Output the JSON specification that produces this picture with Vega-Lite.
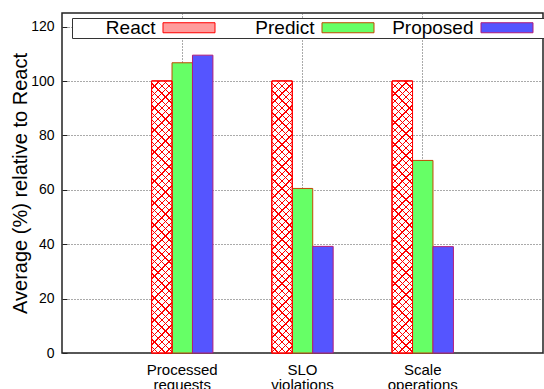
{
  "$schema": "https://vega.github.io/schema/vega-lite/v6.json",
  "width": 481,
  "height": 340,
  "autosize": {"type": "none"},
  "padding": {"left": 62, "top": 13, "right": 1, "bottom": 36},
  "background": "white",
  "config": {
    "font": "Liberation Sans",
    "view": {"stroke": "#222", "strokeWidth": 1.5}
  },
  "data": {
    "values": [
      {"cat": "Processed requests", "series": "React", "value": 100},
      {"cat": "Processed requests", "series": "Predict", "value": 106.7},
      {"cat": "Processed requests", "series": "Proposed", "value": 109.5},
      {"cat": "SLO violations", "series": "React", "value": 100},
      {"cat": "SLO violations", "series": "Predict", "value": 60.5},
      {"cat": "SLO violations", "series": "Proposed", "value": 39.2},
      {"cat": "Scale operations", "series": "React", "value": 100},
      {"cat": "Scale operations", "series": "Predict", "value": 70.8},
      {"cat": "Scale operations", "series": "Proposed", "value": 39.1}
    ]
  },
  "encoding": {
    "x": {
      "field": "cat",
      "type": "nominal",
      "sort": null,
      "scale": {"paddingInner": 0.49, "paddingOuter": 0.745},
      "axis": {
        "title": null,
        "labelAngle": 0,
        "labelExpr": "split(datum.label, ' ')",
        "labelFontSize": 15,
        "labelLineHeight": 15,
        "labelPadding": 9,
        "labelColor": "black",
        "ticks": false,
        "domain": false,
        "grid": true,
        "gridDash": [1, 2],
        "gridColor": "#555",
        "bandPosition": 0.5
      }
    },
    "xOffset": {"field": "series", "type": "nominal", "scale": {"domain": ["React", "Predict", "Proposed"], "paddingInner": 0}},
    "y": {
      "field": "value",
      "type": "quantitative",
      "scale": {"domain": [0, 125], "nice": false},
      "axis": {
        "values": [0, 20, 40, 60, 80, 100, 120],
        "title": "Average (%) relative to React",
        "titleFontSize": 20,
        "titleFontWeight": "normal",
        "titleColor": "black",
        "titlePadding": 0,
        "labelFontSize": 14,
        "labelPadding": 13,
        "labelColor": "black",
        "ticks": true,
        "tickSize": -5,
        "tickColor": "#222",
        "tickWidth": 1,
        "domain": false,
        "gridDash": [1, 2],
        "gridColor": "#555"
      }
    }
  },
  "layer": [
    {
      "mark": {"type": "bar", "strokeWidth": 1},
      "encoding": {
        "fill": {
          "field": "series",
          "type": "nominal",
          "scale": {"domain": ["React", "Predict", "Proposed"], "range": ["#ff9c9c", "#66ff66", "#5555ff"]},
          "legend": {
            "title": " ",
            "orient": "none",
            "legendX": 10,
            "legendY": 5,
            "direction": "horizontal",
            "columns": 3,
            "titleOrient": "left",
            "titleFontSize": 1,
            "titlePadding": 91,
            "padding": 0,
            "strokeColor": "#333",
            "fillColor": "white",
            "labelFontSize": 19,
            "labelColor": "black",
            "labelAlign": "right",
            "labelBaseline": "middle",
            "labelOffset": -43,
            "symbolOffset": 16.5,
            "symbolType": "M-2.889,-0.556H2.889V0.556H-2.889Z M-13.111,0 M4.111,0",
            "symbolSize": 324,
            "symbolStrokeWidth": 1,
            "columnPadding": 0,
            "rowPadding": 0
          }
        },
        "stroke": {
          "field": "series",
          "type": "nominal",
          "scale": {"domain": ["React", "Predict", "Proposed"], "range": ["#ff0000", "#c04a00", "#b01c7a"]},
          "legend": {
            "title": " ",
            "orient": "none",
            "legendX": 10,
            "legendY": 5,
            "direction": "horizontal",
            "columns": 3,
            "titleOrient": "left",
            "titleFontSize": 1,
            "titlePadding": 91,
            "padding": 0,
            "strokeColor": "#333",
            "fillColor": "white",
            "labelFontSize": 19,
            "labelColor": "black",
            "labelAlign": "right",
            "labelBaseline": "middle",
            "labelOffset": -43,
            "symbolOffset": 16.5,
            "symbolType": "M-2.889,-0.556H2.889V0.556H-2.889Z M-13.111,0 M4.111,0",
            "symbolSize": 324,
            "symbolStrokeWidth": 1,
            "columnPadding": 0,
            "rowPadding": 0
          }
        }
      }
    },
    {
      "transform": [{"filter": "datum.series === 'React'"}],
      "mark": {
        "type": "bar",
        "stroke": "#ff0000",
        "strokeWidth": 1,
        "fill": {
          "gradient": "linear",
          "x1": 0, "y1": 0, "x2": 0.0803, "y2": 1.0691,
          "stops": [
            {"offset": 0, "color": "#f00"}, {"offset": 0.0045, "color": "#f00"}, {"offset": 0.0045, "color": "#fff"},
            {"offset": 0.025, "color": "#fff"}, {"offset": 0.025, "color": "#f00"}, {"offset": 0.0295, "color": "#f00"}, {"offset": 0.0295, "color": "#fff"},
            {"offset": 0.05, "color": "#fff"}, {"offset": 0.05, "color": "#f00"}, {"offset": 0.0545, "color": "#f00"}, {"offset": 0.0545, "color": "#fff"},
            {"offset": 0.075, "color": "#fff"}, {"offset": 0.075, "color": "#f00"}, {"offset": 0.0795, "color": "#f00"}, {"offset": 0.0795, "color": "#fff"},
            {"offset": 0.1, "color": "#fff"}, {"offset": 0.1, "color": "#f00"}, {"offset": 0.1045, "color": "#f00"}, {"offset": 0.1045, "color": "#fff"},
            {"offset": 0.125, "color": "#fff"}, {"offset": 0.125, "color": "#f00"}, {"offset": 0.1295, "color": "#f00"}, {"offset": 0.1295, "color": "#fff"},
            {"offset": 0.15, "color": "#fff"}, {"offset": 0.15, "color": "#f00"}, {"offset": 0.1545, "color": "#f00"}, {"offset": 0.1545, "color": "#fff"},
            {"offset": 0.175, "color": "#fff"}, {"offset": 0.175, "color": "#f00"}, {"offset": 0.1795, "color": "#f00"}, {"offset": 0.1795, "color": "#fff"},
            {"offset": 0.2, "color": "#fff"}, {"offset": 0.2, "color": "#f00"}, {"offset": 0.2045, "color": "#f00"}, {"offset": 0.2045, "color": "#fff"},
            {"offset": 0.225, "color": "#fff"}, {"offset": 0.225, "color": "#f00"}, {"offset": 0.2295, "color": "#f00"}, {"offset": 0.2295, "color": "#fff"},
            {"offset": 0.25, "color": "#fff"}, {"offset": 0.25, "color": "#f00"}, {"offset": 0.2545, "color": "#f00"}, {"offset": 0.2545, "color": "#fff"},
            {"offset": 0.275, "color": "#fff"}, {"offset": 0.275, "color": "#f00"}, {"offset": 0.2795, "color": "#f00"}, {"offset": 0.2795, "color": "#fff"},
            {"offset": 0.3, "color": "#fff"}, {"offset": 0.3, "color": "#f00"}, {"offset": 0.3045, "color": "#f00"}, {"offset": 0.3045, "color": "#fff"},
            {"offset": 0.325, "color": "#fff"}, {"offset": 0.325, "color": "#f00"}, {"offset": 0.3295, "color": "#f00"}, {"offset": 0.3295, "color": "#fff"},
            {"offset": 0.35, "color": "#fff"}, {"offset": 0.35, "color": "#f00"}, {"offset": 0.3545, "color": "#f00"}, {"offset": 0.3545, "color": "#fff"},
            {"offset": 0.375, "color": "#fff"}, {"offset": 0.375, "color": "#f00"}, {"offset": 0.3795, "color": "#f00"}, {"offset": 0.3795, "color": "#fff"},
            {"offset": 0.4, "color": "#fff"}, {"offset": 0.4, "color": "#f00"}, {"offset": 0.4045, "color": "#f00"}, {"offset": 0.4045, "color": "#fff"},
            {"offset": 0.425, "color": "#fff"}, {"offset": 0.425, "color": "#f00"}, {"offset": 0.4295, "color": "#f00"}, {"offset": 0.4295, "color": "#fff"},
            {"offset": 0.45, "color": "#fff"}, {"offset": 0.45, "color": "#f00"}, {"offset": 0.4545, "color": "#f00"}, {"offset": 0.4545, "color": "#fff"},
            {"offset": 0.475, "color": "#fff"}, {"offset": 0.475, "color": "#f00"}, {"offset": 0.4795, "color": "#f00"}, {"offset": 0.4795, "color": "#fff"},
            {"offset": 0.5, "color": "#fff"}, {"offset": 0.5, "color": "#f00"}, {"offset": 0.5045, "color": "#f00"}, {"offset": 0.5045, "color": "#fff"},
            {"offset": 0.525, "color": "#fff"}, {"offset": 0.525, "color": "#f00"}, {"offset": 0.5295, "color": "#f00"}, {"offset": 0.5295, "color": "#fff"},
            {"offset": 0.55, "color": "#fff"}, {"offset": 0.55, "color": "#f00"}, {"offset": 0.5545, "color": "#f00"}, {"offset": 0.5545, "color": "#fff"},
            {"offset": 0.575, "color": "#fff"}, {"offset": 0.575, "color": "#f00"}, {"offset": 0.5795, "color": "#f00"}, {"offset": 0.5795, "color": "#fff"},
            {"offset": 0.6, "color": "#fff"}, {"offset": 0.6, "color": "#f00"}, {"offset": 0.6045, "color": "#f00"}, {"offset": 0.6045, "color": "#fff"},
            {"offset": 0.625, "color": "#fff"}, {"offset": 0.625, "color": "#f00"}, {"offset": 0.6295, "color": "#f00"}, {"offset": 0.6295, "color": "#fff"},
            {"offset": 0.65, "color": "#fff"}, {"offset": 0.65, "color": "#f00"}, {"offset": 0.6545, "color": "#f00"}, {"offset": 0.6545, "color": "#fff"},
            {"offset": 0.675, "color": "#fff"}, {"offset": 0.675, "color": "#f00"}, {"offset": 0.6795, "color": "#f00"}, {"offset": 0.6795, "color": "#fff"},
            {"offset": 0.7, "color": "#fff"}, {"offset": 0.7, "color": "#f00"}, {"offset": 0.7045, "color": "#f00"}, {"offset": 0.7045, "color": "#fff"},
            {"offset": 0.725, "color": "#fff"}, {"offset": 0.725, "color": "#f00"}, {"offset": 0.7295, "color": "#f00"}, {"offset": 0.7295, "color": "#fff"},
            {"offset": 0.75, "color": "#fff"}, {"offset": 0.75, "color": "#f00"}, {"offset": 0.7545, "color": "#f00"}, {"offset": 0.7545, "color": "#fff"},
            {"offset": 0.775, "color": "#fff"}, {"offset": 0.775, "color": "#f00"}, {"offset": 0.7795, "color": "#f00"}, {"offset": 0.7795, "color": "#fff"},
            {"offset": 0.8, "color": "#fff"}, {"offset": 0.8, "color": "#f00"}, {"offset": 0.8045, "color": "#f00"}, {"offset": 0.8045, "color": "#fff"},
            {"offset": 0.825, "color": "#fff"}, {"offset": 0.825, "color": "#f00"}, {"offset": 0.8295, "color": "#f00"}, {"offset": 0.8295, "color": "#fff"},
            {"offset": 0.85, "color": "#fff"}, {"offset": 0.85, "color": "#f00"}, {"offset": 0.8545, "color": "#f00"}, {"offset": 0.8545, "color": "#fff"},
            {"offset": 0.875, "color": "#fff"}, {"offset": 0.875, "color": "#f00"}, {"offset": 0.8795, "color": "#f00"}, {"offset": 0.8795, "color": "#fff"},
            {"offset": 0.9, "color": "#fff"}, {"offset": 0.9, "color": "#f00"}, {"offset": 0.9045, "color": "#f00"}, {"offset": 0.9045, "color": "#fff"},
            {"offset": 0.925, "color": "#fff"}, {"offset": 0.925, "color": "#f00"}, {"offset": 0.9295, "color": "#f00"}, {"offset": 0.9295, "color": "#fff"},
            {"offset": 0.95, "color": "#fff"}, {"offset": 0.95, "color": "#f00"}, {"offset": 0.9545, "color": "#f00"}, {"offset": 0.9545, "color": "#fff"},
            {"offset": 0.975, "color": "#fff"}, {"offset": 0.975, "color": "#f00"}, {"offset": 0.9795, "color": "#f00"}, {"offset": 0.9795, "color": "#fff"},
            {"offset": 1, "color": "#fff"}
          ]
        }
      }
    },
    {
      "transform": [{"filter": "datum.series === 'React'"}],
      "mark": {
        "type": "bar",
        "stroke": "#ff0000",
        "strokeWidth": 1,
        "fill": {
          "gradient": "linear",
          "x1": 1, "y1": 0, "x2": 0.9197, "y2": 1.0691,
          "stops": [
            {"offset": 0, "color": "#f00"}, {"offset": 0.0045, "color": "#f00"}, {"offset": 0.0045, "color": "rgba(255,0,0,0)"},
            {"offset": 0.025, "color": "rgba(255,0,0,0)"}, {"offset": 0.025, "color": "#f00"}, {"offset": 0.0295, "color": "#f00"}, {"offset": 0.0295, "color": "rgba(255,0,0,0)"},
            {"offset": 0.05, "color": "rgba(255,0,0,0)"}, {"offset": 0.05, "color": "#f00"}, {"offset": 0.0545, "color": "#f00"}, {"offset": 0.0545, "color": "rgba(255,0,0,0)"},
            {"offset": 0.075, "color": "rgba(255,0,0,0)"}, {"offset": 0.075, "color": "#f00"}, {"offset": 0.0795, "color": "#f00"}, {"offset": 0.0795, "color": "rgba(255,0,0,0)"},
            {"offset": 0.1, "color": "rgba(255,0,0,0)"}, {"offset": 0.1, "color": "#f00"}, {"offset": 0.1045, "color": "#f00"}, {"offset": 0.1045, "color": "rgba(255,0,0,0)"},
            {"offset": 0.125, "color": "rgba(255,0,0,0)"}, {"offset": 0.125, "color": "#f00"}, {"offset": 0.1295, "color": "#f00"}, {"offset": 0.1295, "color": "rgba(255,0,0,0)"},
            {"offset": 0.15, "color": "rgba(255,0,0,0)"}, {"offset": 0.15, "color": "#f00"}, {"offset": 0.1545, "color": "#f00"}, {"offset": 0.1545, "color": "rgba(255,0,0,0)"},
            {"offset": 0.175, "color": "rgba(255,0,0,0)"}, {"offset": 0.175, "color": "#f00"}, {"offset": 0.1795, "color": "#f00"}, {"offset": 0.1795, "color": "rgba(255,0,0,0)"},
            {"offset": 0.2, "color": "rgba(255,0,0,0)"}, {"offset": 0.2, "color": "#f00"}, {"offset": 0.2045, "color": "#f00"}, {"offset": 0.2045, "color": "rgba(255,0,0,0)"},
            {"offset": 0.225, "color": "rgba(255,0,0,0)"}, {"offset": 0.225, "color": "#f00"}, {"offset": 0.2295, "color": "#f00"}, {"offset": 0.2295, "color": "rgba(255,0,0,0)"},
            {"offset": 0.25, "color": "rgba(255,0,0,0)"}, {"offset": 0.25, "color": "#f00"}, {"offset": 0.2545, "color": "#f00"}, {"offset": 0.2545, "color": "rgba(255,0,0,0)"},
            {"offset": 0.275, "color": "rgba(255,0,0,0)"}, {"offset": 0.275, "color": "#f00"}, {"offset": 0.2795, "color": "#f00"}, {"offset": 0.2795, "color": "rgba(255,0,0,0)"},
            {"offset": 0.3, "color": "rgba(255,0,0,0)"}, {"offset": 0.3, "color": "#f00"}, {"offset": 0.3045, "color": "#f00"}, {"offset": 0.3045, "color": "rgba(255,0,0,0)"},
            {"offset": 0.325, "color": "rgba(255,0,0,0)"}, {"offset": 0.325, "color": "#f00"}, {"offset": 0.3295, "color": "#f00"}, {"offset": 0.3295, "color": "rgba(255,0,0,0)"},
            {"offset": 0.35, "color": "rgba(255,0,0,0)"}, {"offset": 0.35, "color": "#f00"}, {"offset": 0.3545, "color": "#f00"}, {"offset": 0.3545, "color": "rgba(255,0,0,0)"},
            {"offset": 0.375, "color": "rgba(255,0,0,0)"}, {"offset": 0.375, "color": "#f00"}, {"offset": 0.3795, "color": "#f00"}, {"offset": 0.3795, "color": "rgba(255,0,0,0)"},
            {"offset": 0.4, "color": "rgba(255,0,0,0)"}, {"offset": 0.4, "color": "#f00"}, {"offset": 0.4045, "color": "#f00"}, {"offset": 0.4045, "color": "rgba(255,0,0,0)"},
            {"offset": 0.425, "color": "rgba(255,0,0,0)"}, {"offset": 0.425, "color": "#f00"}, {"offset": 0.4295, "color": "#f00"}, {"offset": 0.4295, "color": "rgba(255,0,0,0)"},
            {"offset": 0.45, "color": "rgba(255,0,0,0)"}, {"offset": 0.45, "color": "#f00"}, {"offset": 0.4545, "color": "#f00"}, {"offset": 0.4545, "color": "rgba(255,0,0,0)"},
            {"offset": 0.475, "color": "rgba(255,0,0,0)"}, {"offset": 0.475, "color": "#f00"}, {"offset": 0.4795, "color": "#f00"}, {"offset": 0.4795, "color": "rgba(255,0,0,0)"},
            {"offset": 0.5, "color": "rgba(255,0,0,0)"}, {"offset": 0.5, "color": "#f00"}, {"offset": 0.5045, "color": "#f00"}, {"offset": 0.5045, "color": "rgba(255,0,0,0)"},
            {"offset": 0.525, "color": "rgba(255,0,0,0)"}, {"offset": 0.525, "color": "#f00"}, {"offset": 0.5295, "color": "#f00"}, {"offset": 0.5295, "color": "rgba(255,0,0,0)"},
            {"offset": 0.55, "color": "rgba(255,0,0,0)"}, {"offset": 0.55, "color": "#f00"}, {"offset": 0.5545, "color": "#f00"}, {"offset": 0.5545, "color": "rgba(255,0,0,0)"},
            {"offset": 0.575, "color": "rgba(255,0,0,0)"}, {"offset": 0.575, "color": "#f00"}, {"offset": 0.5795, "color": "#f00"}, {"offset": 0.5795, "color": "rgba(255,0,0,0)"},
            {"offset": 0.6, "color": "rgba(255,0,0,0)"}, {"offset": 0.6, "color": "#f00"}, {"offset": 0.6045, "color": "#f00"}, {"offset": 0.6045, "color": "rgba(255,0,0,0)"},
            {"offset": 0.625, "color": "rgba(255,0,0,0)"}, {"offset": 0.625, "color": "#f00"}, {"offset": 0.6295, "color": "#f00"}, {"offset": 0.6295, "color": "rgba(255,0,0,0)"},
            {"offset": 0.65, "color": "rgba(255,0,0,0)"}, {"offset": 0.65, "color": "#f00"}, {"offset": 0.6545, "color": "#f00"}, {"offset": 0.6545, "color": "rgba(255,0,0,0)"},
            {"offset": 0.675, "color": "rgba(255,0,0,0)"}, {"offset": 0.675, "color": "#f00"}, {"offset": 0.6795, "color": "#f00"}, {"offset": 0.6795, "color": "rgba(255,0,0,0)"},
            {"offset": 0.7, "color": "rgba(255,0,0,0)"}, {"offset": 0.7, "color": "#f00"}, {"offset": 0.7045, "color": "#f00"}, {"offset": 0.7045, "color": "rgba(255,0,0,0)"},
            {"offset": 0.725, "color": "rgba(255,0,0,0)"}, {"offset": 0.725, "color": "#f00"}, {"offset": 0.7295, "color": "#f00"}, {"offset": 0.7295, "color": "rgba(255,0,0,0)"},
            {"offset": 0.75, "color": "rgba(255,0,0,0)"}, {"offset": 0.75, "color": "#f00"}, {"offset": 0.7545, "color": "#f00"}, {"offset": 0.7545, "color": "rgba(255,0,0,0)"},
            {"offset": 0.775, "color": "rgba(255,0,0,0)"}, {"offset": 0.775, "color": "#f00"}, {"offset": 0.7795, "color": "#f00"}, {"offset": 0.7795, "color": "rgba(255,0,0,0)"},
            {"offset": 0.8, "color": "rgba(255,0,0,0)"}, {"offset": 0.8, "color": "#f00"}, {"offset": 0.8045, "color": "#f00"}, {"offset": 0.8045, "color": "rgba(255,0,0,0)"},
            {"offset": 0.825, "color": "rgba(255,0,0,0)"}, {"offset": 0.825, "color": "#f00"}, {"offset": 0.8295, "color": "#f00"}, {"offset": 0.8295, "color": "rgba(255,0,0,0)"},
            {"offset": 0.85, "color": "rgba(255,0,0,0)"}, {"offset": 0.85, "color": "#f00"}, {"offset": 0.8545, "color": "#f00"}, {"offset": 0.8545, "color": "rgba(255,0,0,0)"},
            {"offset": 0.875, "color": "rgba(255,0,0,0)"}, {"offset": 0.875, "color": "#f00"}, {"offset": 0.8795, "color": "#f00"}, {"offset": 0.8795, "color": "rgba(255,0,0,0)"},
            {"offset": 0.9, "color": "rgba(255,0,0,0)"}, {"offset": 0.9, "color": "#f00"}, {"offset": 0.9045, "color": "#f00"}, {"offset": 0.9045, "color": "rgba(255,0,0,0)"},
            {"offset": 0.925, "color": "rgba(255,0,0,0)"}, {"offset": 0.925, "color": "#f00"}, {"offset": 0.9295, "color": "#f00"}, {"offset": 0.9295, "color": "rgba(255,0,0,0)"},
            {"offset": 0.95, "color": "rgba(255,0,0,0)"}, {"offset": 0.95, "color": "#f00"}, {"offset": 0.9545, "color": "#f00"}, {"offset": 0.9545, "color": "rgba(255,0,0,0)"},
            {"offset": 0.975, "color": "rgba(255,0,0,0)"}, {"offset": 0.975, "color": "#f00"}, {"offset": 0.9795, "color": "#f00"}, {"offset": 0.9795, "color": "rgba(255,0,0,0)"},
            {"offset": 1, "color": "rgba(255,0,0,0)"}
          ]
        }
      }
    }
  ]
}
